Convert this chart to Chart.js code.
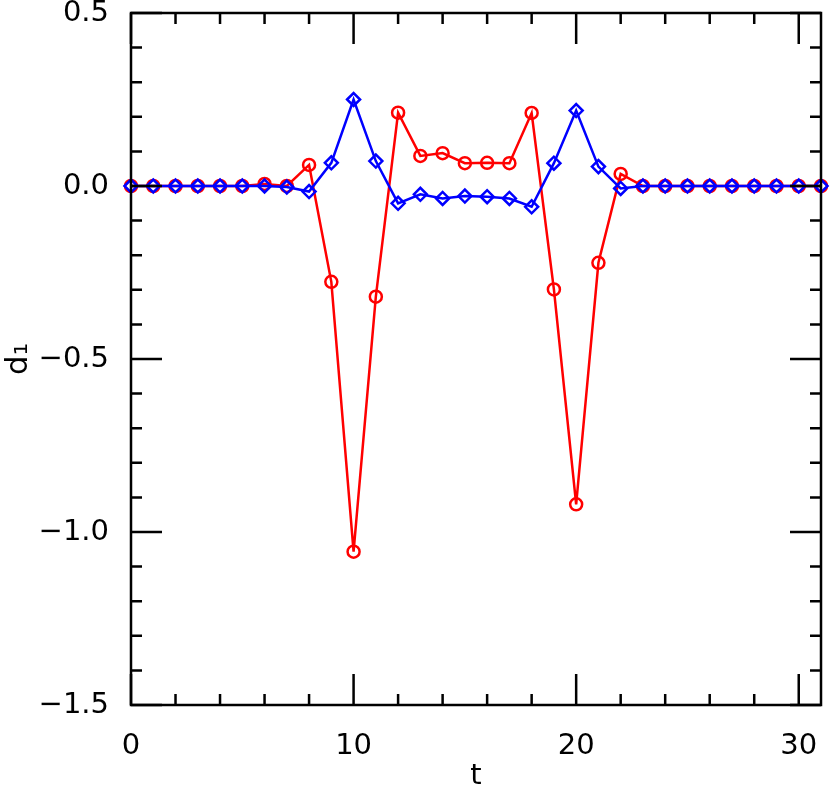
<!DOCTYPE html>
<html>
<head>
<meta charset="utf-8">
<script src="https://cdn.jsdelivr.net/npm/chart.js@4"></script>
<style>
  html, body { margin: 0; padding: 0; background: #fff; }
  #wrap { width: 830px; height: 794px; }
</style>
</head>
<body>
<div id="wrap"><canvas id="d1Chart" width="830" height="794"></canvas></div>
<script>
// valores
const tValues = [0, 1, 2, 3, 4, 5, 6, 7, 8, 9, 10, 11, 12, 13, 14, 15,
                 16, 17, 18, 19, 20, 21, 22, 23, 24, 25, 26, 27, 28, 29, 30, 31];
const redValues = [0, 0, 0, 0, 0, 0, 0.006, 0, 0.061, -0.277, -1.057, -0.32,
                   0.212, 0.087, 0.095, 0.066, 0.067, 0.066, 0.211, -0.299, -0.92, -0.222,
                   0.035, 0, 0, 0, 0, 0, 0, 0, 0, 0];
const blueValues = [0, 0, 0, 0, 0, 0, 0, -0.003, -0.016, 0.067, 0.25, 0.072,
                    -0.05, -0.024, -0.036, -0.029, -0.031, -0.036, -0.06, 0.066, 0.218, 0.056,
                    -0.007, 0, 0, 0, 0, 0, 0, 0, 0, 0];
const xTickLabels = [0, 10, 20, 30];
const yTickLabels = [-1.5, -1.0, -0.5, 0.0, 0.5];

const FONT = "'DejaVu Sans', sans-serif";

// marcas internas (tipo supermongo) + moldura
const frameTicks = {
    id: 'frameTicks',
    afterDatasetsDraw(chart) {
        const ctx = chart.ctx;
        const a = chart.chartArea;
        const x = chart.scales.x, y = chart.scales.y;
        ctx.save();
        ctx.strokeStyle = '#000';
        ctx.lineWidth = 2.5;
        ctx.beginPath();
        for (let v = 0; v <= x.max + 1e-9; v += 2) {
            const px = x.getPixelForValue(v);
            const len = v % 10 === 0 ? 31 : 11;
            ctx.moveTo(px, a.bottom); ctx.lineTo(px, a.bottom - len);
            ctx.moveTo(px, a.top); ctx.lineTo(px, a.top + len);
        }
        for (let k = -15; k <= 5; k++) {
            const py = y.getPixelForValue(k / 10);
            const len = k % 5 === 0 ? 31 : 11;
            ctx.moveTo(a.left, py); ctx.lineTo(a.left + len, py);
            ctx.moveTo(a.right, py); ctx.lineTo(a.right - len, py);
        }
        ctx.stroke();
        ctx.strokeRect(a.left, a.top, a.right - a.left, a.bottom - a.top);
        ctx.restore();
    }
};

// sem folga extra por causa dos rótulos
function noPad(scale) {
    scale.paddingLeft = 0;
    scale.paddingRight = 0;
    scale.paddingTop = 0;
    scale.paddingBottom = 0;
}

const points = tValues.map((t, i) => ({ x: t, y: blueValues[i] }));
const pointsRed = tValues.map((t, i) => ({ x: t, y: redValues[i] }));

new Chart(document.getElementById('d1Chart'), {
    type: 'line',
    data: {
        datasets: [{
            label: 'azul',
            data: points,
            borderColor: '#0000ff',
            backgroundColor: 'rgba(0,0,0,0)',
            borderWidth: 2.5,
            pointStyle: 'rectRot',
            pointRadius: 6.5,
            pointBorderWidth: 2.5,
            pointBorderColor: '#0000ff',
            pointBackgroundColor: 'rgba(0,0,0,0)',
            fill: false,
            clip: false
        }, {
            label: 'vermelho',
            data: pointsRed,
            borderColor: '#ff0000',
            backgroundColor: 'rgba(0,0,0,0)',
            borderWidth: 2.5,
            pointStyle: 'circle',
            pointRadius: 6,
            pointBorderWidth: 2.5,
            pointBorderColor: '#ff0000',
            pointBackgroundColor: 'rgba(0,0,0,0)',
            fill: false,
            clip: false
        }]
    },
    options: {
        responsive: false,
        animation: false,
        events: [],
        layout: { padding: { top: 13, right: 7, left: 0, bottom: 0 } },
        plugins: { legend: { display: false }, tooltip: { enabled: false } },
        scales: {
            x: {
                type: 'linear',
                min: 0,
                max: 31,
                grid: { display: false },
                border: { display: false },
                afterBuildTicks: scale => { scale.ticks = xTickLabels.map(v => ({ value: v })); },
                afterFit: scale => { scale.height = 89; noPad(scale); },
                ticks: {
                    color: '#000',
                    padding: 16,
                    maxRotation: 0,
                    font: { family: FONT, size: 29 }
                },
                title: {
                    display: true,
                    text: 't',
                    color: '#000',
                    padding: 0,
                    font: { family: FONT, size: 29 }
                }
            },
            y: {
                type: 'linear',
                min: -1.5,
                max: 0.5,
                grid: { display: false },
                border: { display: false },
                afterBuildTicks: scale => { scale.ticks = yTickLabels.map(v => ({ value: v })); },
                afterFit: scale => { scale.width = 131; noPad(scale); },
                ticks: {
                    color: '#000',
                    padding: 14,
                    font: { family: FONT, size: 29 },
                    callback: value => value.toFixed(1).replace('-', '\u2212')
                },
                title: {
                    display: true,
                    text: 'd\u2081',
                    color: '#000',
                    padding: 0,
                    font: { family: FONT, size: 31 }
                }
            }
        }
    },
    plugins: [frameTicks]
});
</script>
</body>
</html>
